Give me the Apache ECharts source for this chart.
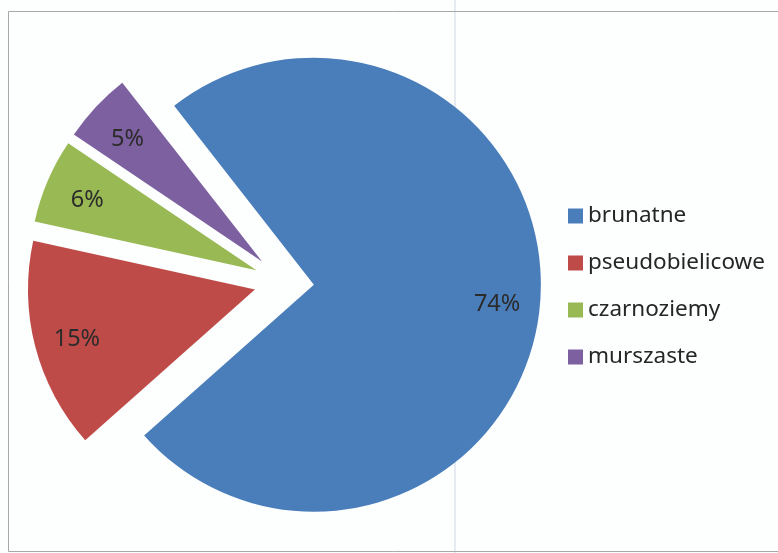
<!DOCTYPE html>
<html>
<head>
<meta charset="utf-8">
<script src="https://cdn.jsdelivr.net/npm/echarts@6/dist/echarts.min.js"></script>
<style>
html,body{margin:0;padding:0;background:#fdfefe;}
#chart{width:778px;height:553px;}
</style>
</head>
<body>
<div id="chart"></div>
<script>
var categories = ['brunatne', 'pseudobielicowe', 'czarnoziemy', 'murszaste'];
var values = [74, 15, 6, 5];
var labels = ['74%', '15%', '6%', '5%'];
var colors = ['#4a7ebb', '#be4b48', '#98b954', '#7d60a0'];

var chart = echarts.init(document.getElementById('chart'), null, {renderer: 'canvas'});

function makeData(withColor) {
  return categories.map(function (c, i) {
    return {
      name: c,
      value: values[i],
      selected: true,
      itemStyle: withColor ? {color: colors[i]} : {color: 'rgba(0,0,0,0)'},
      label: {formatter: labels[i]}
    };
  });
}

var option = {
  animation: false,
  backgroundColor: '#fdfefe',
  graphic: [
    {type: 'line', z: -10, shape: {x1: 455, y1: 0, x2: 455, y2: 553}, style: {stroke: '#e6ebf2', lineWidth: 2}},
    {type: 'rect', z: -5, shape: {x: 8.5, y: 11.5, width: 790, height: 540}, style: {fill: 'none', stroke: '#a8a8a8', lineWidth: 1}}
  ],
  legend: {
    orient: 'vertical',
    left: 563,
    top: 199,
    itemWidth: 15,
    itemHeight: 15,
    itemGap: 23,
    icon: 'rect',
    data: categories,
    selectedMode: false,
    textStyle: {fontFamily: 'Noto Sans', fontSize: 22.5, color: '#262626', lineHeight: 24}
  },
  series: [
    {
      type: 'pie',
      center: [284, 282],
      radius: [0, 227],
      startAngle: 128,
      clockwise: true,
      selectedMode: 'multiple',
      selectedOffset: 30,
      silent: true,
      label: {show: false},
      labelLine: {show: false},
      emphasis: {disabled: true},
      data: makeData(true)
    },
    {
      type: 'pie',
      center: [284, 285],
      radius: [171, 191],
      startAngle: 128,
      clockwise: true,
      selectedMode: 'multiple',
      selectedOffset: 30,
      silent: true,
      avoidLabelOverlap: false,
      label: {show: true, position: 'inside', fontFamily: 'Noto Sans', fontSize: 23.5, color: '#2b2b2b'},
      labelLine: {show: false},
      emphasis: {disabled: true},
      data: makeData(false)
    }
  ]
};
chart.setOption(option);
</script>
</body>
</html>
